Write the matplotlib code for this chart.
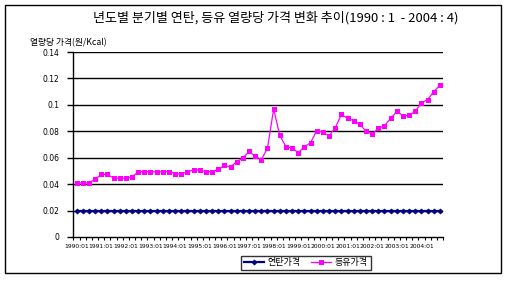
import matplotlib
matplotlib.use("Agg")
import matplotlib.pyplot as plt
from matplotlib.patches import Rectangle

plt.rcParams['font.family'] = ['Noto Sans CJK KR', 'DejaVu Sans']

years = list(range(1990, 2005))
quarters = [f"{y}:{q}" for y in years for q in range(1, 5)]
tick_labels = [f"{y}:01" for y in years]

yeontan = [0.0195] * 60
deungyu = [0.0411, 0.0410, 0.0410, 0.0436, 0.0474, 0.0474, 0.0446, 0.0446,
           0.0446, 0.0454, 0.0494, 0.0494, 0.0494, 0.0494, 0.0494, 0.0494,
           0.0479, 0.0477, 0.0494, 0.0507, 0.0507, 0.0494, 0.0494, 0.0512,
           0.0542, 0.0530, 0.0570, 0.0598, 0.0648, 0.0610, 0.0585, 0.0673,
           0.0968, 0.0769, 0.0683, 0.0673, 0.0638, 0.0683, 0.0714, 0.0805,
           0.0792, 0.0767, 0.0825, 0.0928, 0.0898, 0.0880, 0.0853, 0.0800,
           0.0780, 0.0822, 0.0842, 0.0898, 0.0951, 0.0918, 0.0920, 0.0951,
           0.1016, 0.1039, 0.1100, 0.1148]

yticks = [0, 0.02, 0.04, 0.06, 0.08, 0.1, 0.12, 0.14]
ytick_labels = ["0", "0.02", "0.04", "0.06", "0.08", "0.1", "0.12", "0.14"]

W, H = 506, 281
fig = plt.figure(figsize=(W / 100, H / 100), dpi=100)
fig.patch.set_facecolor('white')

# outer border
fig.patches.append(Rectangle((4.5 / W, 1 - 272.5 / H), 497 / W, 268 / H,
                             transform=fig.transFigure, fill=False,
                             edgecolor='black', linewidth=1))

ax = fig.add_axes([73.5 / W, 1 - 237 / H, (443 - 73.5) / W, (237 - 52) / H])
x = list(range(len(quarters)))
ax.set_xlim(-0.5, len(quarters) - 0.5)
ax.set_ylim(0, 0.14)
for v in yticks[1:]:
    ax.axhline(v, color='black', linewidth=1, zorder=1)

ax.plot(x, yeontan, color='#000080', linewidth=1.6, marker='D', markersize=2.6,
        markeredgewidth=0.5, zorder=3, label='연탄가격')
ax.plot(x, deungyu, color='#FF00FF', linewidth=0.9, marker='s', markersize=3.6,
        markeredgewidth=0, zorder=4, label='등유가격')

for s in ['top', 'right']:
    ax.spines[s].set_visible(False)
ax.spines['left'].set_linewidth(1)
ax.spines['bottom'].set_linewidth(1)

ax.set_yticks(yticks)
ax.set_yticklabels(ytick_labels, fontsize=5.5, family=['DejaVu Sans'])
ax.tick_params(axis='y', length=4, width=1, pad=6)

ax.set_xticks([i - 0.5 for i in range(len(quarters) + 1)], minor=True)
ax.set_xticks(list(range(0, len(quarters), 4)))
ax.set_xticklabels(tick_labels, fontsize=4.3, family=['DejaVu Sans'])
ax.tick_params(axis='x', which='major', length=0, pad=5)
ax.tick_params(axis='x', which='minor', length=2, width=0.8, direction='out')

fig.text(276 / W, 1 - 18 / H, "년도별 분기별 연탄, 등유 열량당 가격 변화 추이(1990 : 1  - 2004 : 4)",
         ha='center', va='center', fontsize=9.4)
fig.text(30 / W, 1 - 43 / H, "열량당 가격(원/Kcal)", ha='left', va='center', fontsize=6.3)

leg = fig.legend(loc='center', bbox_to_anchor=(306 / W, 1 - 263 / H), ncol=2,
                 fontsize=6.5, frameon=True, fancybox=False, edgecolor='black',
                 handlelength=2.2, columnspacing=1.2, borderpad=0.3,
                 handletextpad=0.4)
leg.get_frame().set_linewidth(1)

fig.savefig("out.png", dpi=100)
